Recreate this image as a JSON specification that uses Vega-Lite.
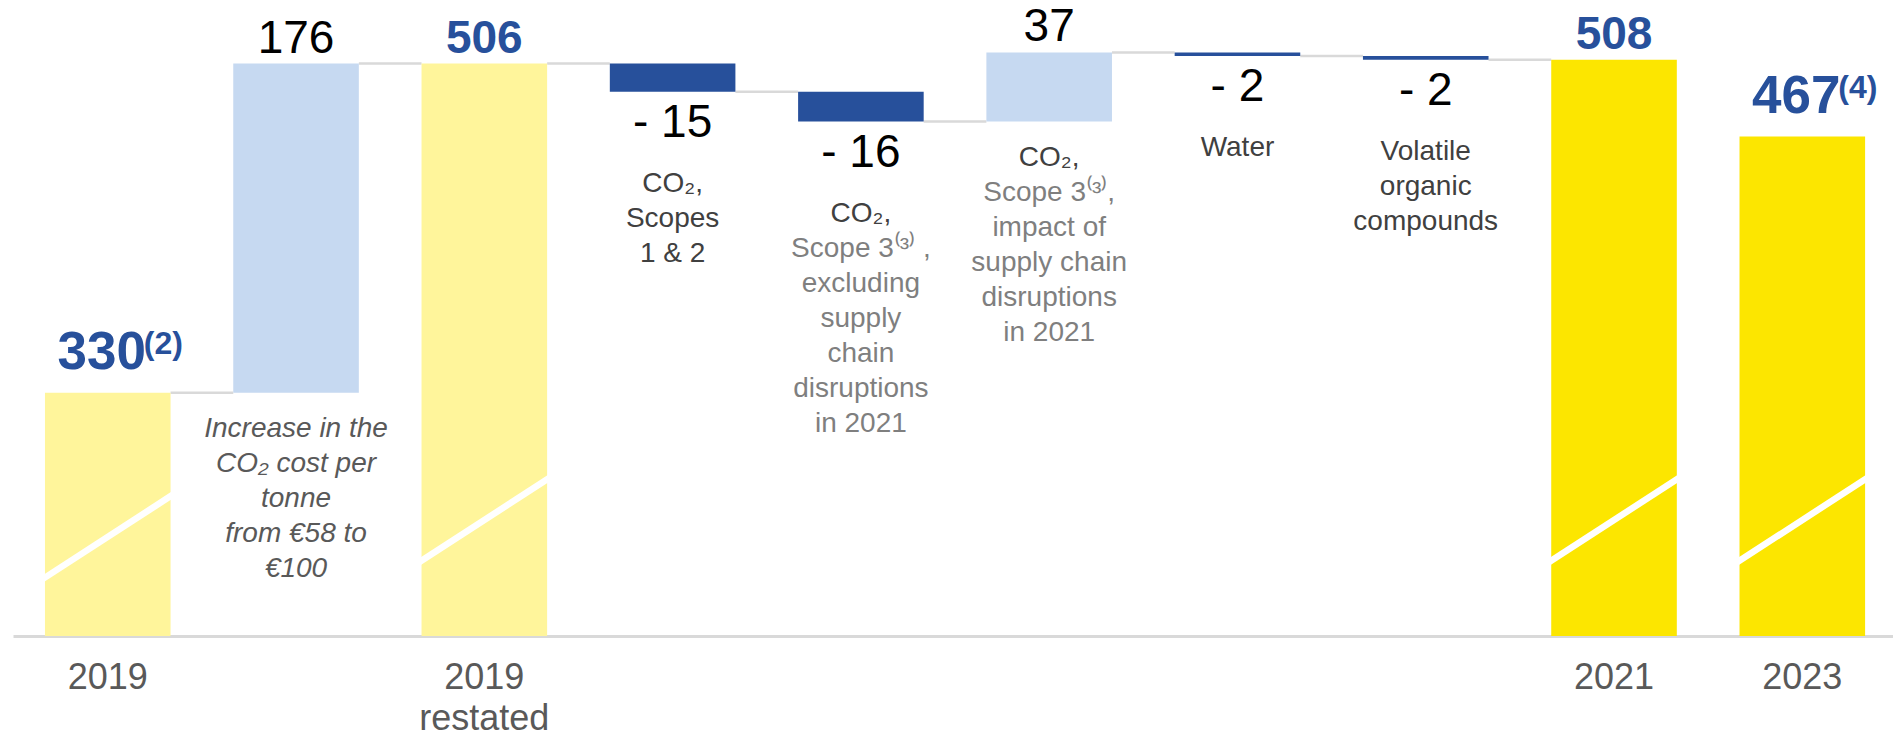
{
  "$schema": "https://vega.github.io/schema/vega-lite/v6.json",
  "autosize": "none",
  "padding": {"left": 13, "top": 0, "right": 0, "bottom": 100},
  "width": 1880,
  "height": 636,
  "background": "white",
  "config": {"font": "Liberation Sans", "view": {"stroke": null}},
  "data": {
    "values": [
      {"cat": "2019", "kind": "pale", "start": 0, "end": 330, "label": "330", "note": "(2)", "next": "Increase in the CO₂ cost per tonne", "level": 330, "brk": 253},
      {"cat": "Increase in the CO₂ cost per tonne", "kind": "up", "start": 330, "end": 506, "label": "176", "idesc": "Increase in the\nCO₂ cost per\ntonne\nfrom €58 to\n€100", "next": "2019 restated", "level": 506},
      {"cat": "2019 restated", "kind": "pale", "start": 0, "end": 506, "label": "506", "next": "CO₂, Scopes 1 & 2", "level": 506, "brk": 262},
      {"cat": "CO₂, Scopes 1 & 2", "kind": "down", "start": 506, "end": 491, "label": "- 15", "desc": "CO₂,\nScopes\n1 & 2", "next": "CO₂, Scope 3, excluding supply chain disruptions in 2021", "level": 491},
      {"cat": "CO₂, Scope 3, excluding supply chain disruptions in 2021", "kind": "down", "start": 491, "end": 475, "label": "- 16", "desc": "CO₂,", "desc2": "\nScope 3⁽³⁾ ,\nexcluding\nsupply\nchain\ndisruptions\nin 2021", "next": "CO₂, Scope 3, impact of supply chain disruptions in 2021", "level": 475},
      {"cat": "CO₂, Scope 3, impact of supply chain disruptions in 2021", "kind": "up", "start": 475, "end": 512, "label": "37", "desc": "CO₂,", "desc2": "\nScope 3⁽³⁾,\nimpact of\nsupply chain\ndisruptions\nin 2021", "next": "Water", "level": 512},
      {"cat": "Water", "kind": "down", "start": 512, "end": 510, "label": "- 2", "desc": "Water", "next": "Volatile organic compounds", "level": 510},
      {"cat": "Volatile organic compounds", "kind": "down", "start": 510, "end": 508, "label": "- 2", "desc": "Volatile\norganic\ncompounds", "next": "2021", "level": 508},
      {"cat": "2021", "kind": "total", "start": 0, "end": 508, "label": "508", "brk": 262},
      {"cat": "2023", "kind": "total", "start": 0, "end": 467, "label": "467", "note": "(4)", "brk": 262}
    ]
  },
  "encoding": {
    "x": {
      "field": "cat",
      "type": "nominal",
      "scale": {
        "domain": ["2019", "Increase in the CO₂ cost per tonne", "2019 restated", "CO₂, Scopes 1 & 2", "CO₂, Scope 3, excluding supply chain disruptions in 2021", "CO₂, Scope 3, impact of supply chain disruptions in 2021", "Water", "Volatile organic compounds", "2021", "2023"],
        "paddingInner": 0.333,
        "paddingOuter": 0.159,
        "align": 0.534
      },
      "axis": {
        "title": null,
        "labelAngle": 0,
        "labelExpr": "indexof(['2019','2019 restated','2021','2023'], datum.value) < 0 ? '' : (datum.value == '2019 restated' ? ['2019','restated'] : datum.value)",
        "labelFontSize": 36,
        "labelColor": "#595959",
        "labelLineHeight": 41,
        "labelPadding": 24,
        "labelLimit": 400,
        "labelOverlap": false,
        "ticks": false,
        "tickSize": 0,
        "domainColor": "#D9D9D9",
        "domainWidth": 3,
        "grid": false
      }
    }
  },
  "layer": [
    {
      "transform": [{"filter": "isValid(datum.next)"}],
      "mark": {"type": "rule", "color": "#D9D9D9", "strokeWidth": 2.5},
      "encoding": {
        "x": {"field": "cat", "type": "nominal", "bandPosition": 1},
        "x2": {"field": "next", "bandPosition": 0},
        "y": {"field": "level", "type": "quantitative", "scale": {"domain": [200, 540], "clamp": true, "zero": false, "nice": false}, "axis": null}
      }
    },
    {
      "mark": {"type": "bar"},
      "encoding": {
        "y": {"field": "end", "type": "quantitative"},
        "y2": {"field": "start"},
        "color": {
          "field": "kind",
          "type": "nominal",
          "scale": {"domain": ["pale", "up", "down", "total"], "range": ["#FFF59B", "#C6D9F1", "#27509B", "#FCE600"]},
          "legend": null
        }
      }
    },
    {
      "transform": [{"filter": "isValid(datum.brk)"}],
      "mark": {"type": "point", "shape": "M-1,0.648L1,-0.648", "size": 17424, "filled": false, "stroke": "white", "strokeWidth": 6.5, "opacity": 1, "strokeCap": "butt"},
      "encoding": {"y": {"field": "brk", "type": "quantitative"}}
    },
    {
      "transform": [{"filter": "(datum.kind == 'pale' || datum.kind == 'total') && !isValid(datum.note)"}],
      "mark": {"type": "text", "fontSize": 46, "fontWeight": "bold", "color": "#27509B", "baseline": "alphabetic", "dy": -11},
      "encoding": {"y": {"field": "end", "type": "quantitative"}, "text": {"field": "label"}}
    },
    {
      "transform": [{"filter": "isValid(datum.note)"}],
      "mark": {"type": "text", "fontSize": 53, "fontWeight": "bold", "color": "#27509B", "baseline": "alphabetic", "dy": -24, "dx": -6},
      "encoding": {"y": {"field": "end", "type": "quantitative"}, "text": {"field": "label"}}
    },
    {
      "transform": [{"filter": "isValid(datum.note)"}],
      "mark": {"type": "text", "fontSize": 32, "fontWeight": "bold", "color": "#27509B", "baseline": "alphabetic", "align": "left", "dy": -39, "dx": 36},
      "encoding": {"y": {"field": "end", "type": "quantitative"}, "text": {"field": "note"}}
    },
    {
      "transform": [{"filter": "datum.kind == 'up'"}],
      "mark": {"type": "text", "fontSize": 46, "color": "#000000", "baseline": "alphabetic", "dy": -11},
      "encoding": {"y": {"field": "end", "type": "quantitative"}, "text": {"field": "label"}}
    },
    {
      "transform": [{"filter": "datum.kind == 'down'"}],
      "mark": {"type": "text", "fontSize": 46, "color": "#000000", "baseline": "top", "dy": 9},
      "encoding": {"y": {"field": "end", "type": "quantitative"}, "text": {"field": "label"}}
    },
    {
      "transform": [{"filter": "isValid(datum.idesc)"}],
      "mark": {"type": "text", "fontSize": 28, "fontStyle": "italic", "color": "#595959", "baseline": "top", "dy": 22, "lineBreak": "\n", "lineHeight": 35},
      "encoding": {"y": {"field": "start", "type": "quantitative"}, "text": {"field": "idesc"}}
    },
    {
      "transform": [{"filter": "datum.kind == 'up' && isValid(datum.desc)"}],
      "mark": {"type": "text", "fontSize": 28, "color": "#404040", "baseline": "top", "dy": 22, "lineBreak": "\n", "lineHeight": 35},
      "encoding": {"y": {"field": "start", "type": "quantitative"}, "text": {"field": "desc"}}
    },
    {
      "transform": [{"filter": "datum.kind == 'up' && isValid(datum.desc2)"}],
      "mark": {"type": "text", "fontSize": 28, "color": "#7F7F7F", "baseline": "top", "dy": 22, "lineBreak": "\n", "lineHeight": 35},
      "encoding": {"y": {"field": "start", "type": "quantitative"}, "text": {"field": "desc2"}}
    },
    {
      "transform": [{"filter": "datum.kind == 'down' && isValid(datum.desc)"}],
      "mark": {"type": "text", "fontSize": 28, "color": "#404040", "baseline": "top", "dy": 78, "lineBreak": "\n", "lineHeight": 35},
      "encoding": {"y": {"field": "end", "type": "quantitative"}, "text": {"field": "desc"}}
    },
    {
      "transform": [{"filter": "datum.kind == 'down' && isValid(datum.desc2)"}],
      "mark": {"type": "text", "fontSize": 28, "color": "#7F7F7F", "baseline": "top", "dy": 78, "lineBreak": "\n", "lineHeight": 35},
      "encoding": {"y": {"field": "end", "type": "quantitative"}, "text": {"field": "desc2"}}
    }
  ]
}
